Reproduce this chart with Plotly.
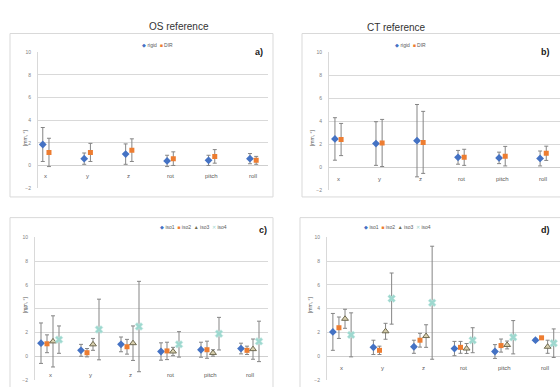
import plotly.graph_objects as go

W, H = 560, 387

categories = ["x", "y", "z", "rot", "pitch", "roll"]

# Panel a) OS reference
a_rigid_mean = [1.85, 0.6, 1.0, 0.4, 0.45, 0.6]
a_rigid_sd = [1.5, 0.5, 0.9, 0.5, 0.45, 0.45]
a_dir_mean = [1.15, 1.15, 1.35, 0.6, 0.8, 0.45]
a_dir_sd = [1.25, 0.8, 1.0, 0.6, 0.6, 0.35]

# Panel b) CT reference
b_rigid_mean = [2.45, 2.05, 2.3, 0.85, 0.8, 0.75]
b_rigid_sd = [1.85, 1.9, 3.15, 0.6, 0.5, 0.65]
b_dir_mean = [2.4, 2.1, 2.15, 0.85, 0.95, 1.2]
b_dir_sd = [1.4, 2.05, 2.7, 0.7, 0.85, 0.62]

# Panel c) OS reference, iso levels
c_iso1_mean = [1.1, 0.5, 1.0, 0.4, 0.55, 0.65]
c_iso1_sd = [1.7, 0.5, 0.62, 0.73, 0.63, 0.45]
c_iso2_mean = [1.05, 0.3, 0.8, 0.45, 0.55, 0.5]
c_iso2_sd = [0.75, 0.35, 0.62, 0.73, 0.72, 0.35]
c_iso3_mean = [1.25, 1.0, 1.1, 0.4, 0.28, 0.6]
c_iso3_sd = [2.15, 0.5, 1.45, 0.35, 0.27, 0.85]
c_iso4_mean = [1.4, 2.25, 2.5, 1.0, 1.9, 1.25]
c_iso4_sd = [1.15, 2.55, 3.8, 1.07, 1.37, 1.7]

# Panel d) CT reference, iso levels
d_iso1_mean = [2.05, 0.75, 0.8, 0.65, 0.4, 1.35]
d_iso1_sd = [1.55, 0.6, 0.55, 0.6, 0.58, 0.1]
d_iso2_mean = [2.4, 0.5, 1.35, 0.75, 0.9, 1.55]
d_iso2_sd = [0.9, 0.35, 0.58, 0.5, 0.55, 0.12]
d_iso3_mean = [3.15, 2.1, 1.7, 0.65, 0.95, 0.8]
d_iso3_sd = [0.8, 0.67, 0.95, 0.42, 0.33, 0.55]
d_iso4_mean = [1.8, 4.85, 4.5, 1.35, 1.6, 1.1]
d_iso4_sd = [1.85, 2.15, 4.75, 1.05, 1.4, 1.2]

two_names = ["rigid", "DIR"]
four_names = ["iso1", "iso2", "iso3", "iso4"]
y_ticks = [-2, 0, 2, 4, 6, 8, 10]
titles = ["OS reference", "CT reference"]
panel_tags = ["a)", "b)", "c)", "d)"]
y_title = "[mm, °]"

BLUE = "#4472C4"
ORANGE = "#ED7D31"
ISO3_LINE = "#6f6a50"
ISO3_FILL = "#d8cfae"
ISO4 = "#9ed8cf"
ERR = "#858585"
GRID = "#d9d9d9"

styles = {
    "rigid": dict(symbol="diamond", size=6, color=BLUE, line=dict(width=0)),
    "DIR": dict(symbol="square", size=5, color=ORANGE, line=dict(width=0)),
    "iso1": dict(symbol="diamond", size=6, color=BLUE, line=dict(width=0)),
    "iso2": dict(symbol="square", size=5, color=ORANGE, line=dict(width=0)),
    "iso3": dict(symbol="triangle-up", size=6, color=ISO3_FILL, line=dict(width=1, color=ISO3_LINE)),
    "iso4": dict(symbol="x", size=7, color=ISO4, line=dict(width=0.5, color="#c8ece7")),
}
legend_glyph = {"rigid": ("◆", BLUE), "DIR": ("■", ORANGE),
                "iso1": ("◆", BLUE), "iso2": ("■", ORANGE),
                "iso3": ("▲", ISO3_LINE), "iso4": ("✕", ISO4)}

def px_x(p):
    return p / W

def px_y(p):
    return 1 - p / H

panels = [
    dict(means=[a_rigid_mean, a_dir_mean], sds=[a_rigid_sd, a_dir_sd], names=two_names,
         xd=(38, 268), yd=(50, 188), xr=(-0.19, 5.36), laby=-0.9, offs=[-0.075, 0.075]),
    dict(means=[b_rigid_mean, b_dir_mean], sds=[b_rigid_sd, b_dir_sd], names=two_names,
         xd=(329, 560), yd=(50, 190), xr=(-0.22, 5.41), laby=-1.0, offs=[-0.075, 0.075]),
    dict(means=[c_iso1_mean, c_iso2_mean, c_iso3_mean, c_iso4_mean],
         sds=[c_iso1_sd, c_iso2_sd, c_iso3_sd, c_iso4_sd], names=four_names,
         xd=(35, 268), yd=(238, 383), xr=(-0.375, 5.45), laby=-1.55, offs=[-0.225, -0.075, 0.075, 0.225]),
    dict(means=[d_iso1_mean, d_iso2_mean, d_iso3_mean, d_iso4_mean],
         sds=[d_iso1_sd, d_iso2_sd, d_iso3_sd, d_iso4_sd], names=four_names,
         xd=(327, 560), yd=(238, 383), xr=(-0.37, 5.38), laby=-1.0, offs=[-0.225, -0.075, 0.075, 0.225]),
]

fig = go.Figure()
layout = dict(width=W, height=H, margin=dict(l=0, r=0, t=0, b=0),
              paper_bgcolor="white", plot_bgcolor="white", showlegend=False,
              font=dict(family="Liberation Sans, Arial, sans-serif", color="#595959"))
annotations = []
shapes = []

frames = [(10, 273, 31, 197), (302, 600, 31, 197), (10, 273, 218, 400), (300, 600, 218, 400)]
legend_pos = [(140, 38), (428, 38), (158, 228), (433, 228)]
tag_pos = [(259, 43), (552, 43), (263, 231), (552, 231)]
ytitle_pos = [(20, 127), (312, 127), (20, 317), (310, 317)]

for k, p in enumerate(panels):
    n = k + 1
    xa = "x" if n == 1 else f"x{n}"
    ya = "y" if n == 1 else f"y{n}"
    for s, name in enumerate(p["names"]):
        xs = [i + p["offs"][s] for i in range(len(categories))]
        fig.add_trace(go.Scatter(
            x=xs, y=p["means"][s], mode="markers", name=name, xaxis=xa, yaxis=ya,
            marker=styles[name],
            error_y=dict(type="data", array=p["sds"][s], visible=True,
                         color=ERR, thickness=1, width=2),
            hovertext=categories,
        ))
    xkey = "xaxis" if n == 1 else f"xaxis{n}"
    ykey = "yaxis" if n == 1 else f"yaxis{n}"
    layout[xkey] = dict(domain=[px_x(p["xd"][0]), px_x(p["xd"][1])], range=list(p["xr"]),
                        anchor=ya, showgrid=False, zeroline=False, showticklabels=False,
                        showline=False, fixedrange=True)
    layout[ykey] = dict(domain=[px_y(p["yd"][1]), px_y(p["yd"][0])], range=[-2, 10],
                        anchor=xa, tickvals=y_ticks, showgrid=True, gridcolor=GRID, gridwidth=1,
                        zeroline=True, zerolinecolor="#cfcfcf", zerolinewidth=1,
                        showline=True, linecolor=GRID, linewidth=1,
                        tickfont=dict(size=5, color="#7f7f7f"), ticks="", ticklabelstandoff=5,
                        fixedrange=True)
    for i, c in enumerate(categories):
        annotations.append(dict(x=i, y=p["laby"], xref=xa, yref=ya, text=c, showarrow=False,
                                font=dict(size=6, color="#595959")))
    x0, x1, y0, y1 = frames[k]
    shapes.append(dict(type="rect", xref="paper", yref="paper",
                       x0=px_x(x0), x1=px_x(x1), y0=px_y(y1), y1=px_y(y0),
                       line=dict(color="#d9d9d9", width=1), fillcolor="rgba(0,0,0,0)", layer="below"))
    parts = []
    for name in p["names"]:
        g, col = legend_glyph[name]
        parts.append(f"<span style='color:{col}'>{g}</span> {name}")
    lx, ly = legend_pos[k]
    annotations.append(dict(x=px_x(lx), y=px_y(ly), xref="paper", yref="paper",
                            text="&nbsp;&nbsp;".join(parts), showarrow=False,
                            font=dict(size=5, color="#595959")))
    tx, ty = tag_pos[k]
    annotations.append(dict(x=px_x(tx), y=px_y(ty), xref="paper", yref="paper",
                            text=f"<b>{panel_tags[k]}</b>", showarrow=False,
                            font=dict(size=9, color="#202020")))
    yx, yy = ytitle_pos[k]
    annotations.append(dict(x=px_x(yx), y=px_y(yy), xref="paper", yref="paper",
                            text=y_title, textangle=-90, showarrow=False,
                            font=dict(size=5, color="#595959")))

annotations.append(dict(x=px_x(147), y=px_y(16), xref="paper", yref="paper", text=titles[0],
                        showarrow=False, font=dict(size=10, color="#333333")))
annotations.append(dict(x=px_x(428), y=px_y(17), xref="paper", yref="paper", text=titles[1],
                        showarrow=False, font=dict(size=10, color="#333333")))

layout["annotations"] = annotations
layout["shapes"] = shapes
fig.update_layout(**layout)
fig.write_html("out.html", config={"displayModeBar": False},
               post_script="document.body.style.margin='0';document.body.style.overflow='hidden';")
